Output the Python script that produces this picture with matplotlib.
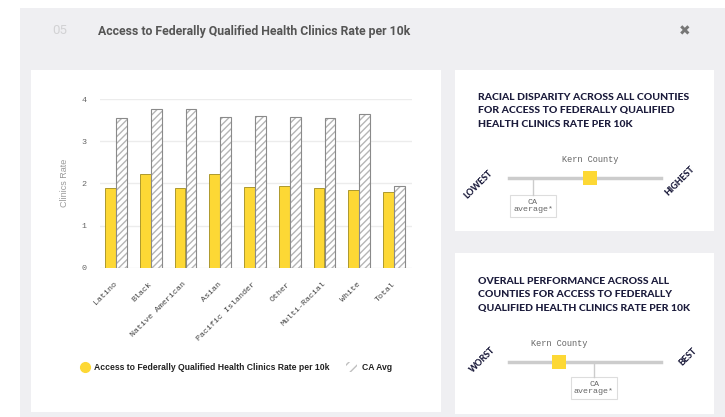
import numpy as np
import matplotlib
matplotlib.use("Agg")
import matplotlib.pyplot as plt
from matplotlib.patches import Rectangle
from matplotlib.transforms import ScaledTranslation

groups = ["Latino", "Black", "Native American", "Asian", "Pacific Islander",
          "Other", "Multi-Racial", "White", "Total"]
county_rate = [1.90, 2.23, 1.90, 2.23, 1.92, 1.94, 1.90, 1.84, 1.79]
ca_avg = [3.55, 3.76, 3.76, 3.57, 3.60, 3.57, 3.55, 3.64, 1.94]
y_ticks = [0, 1, 2, 3, 4]

W, H = 725, 417
fig = plt.figure(figsize=(W / 100, H / 100), dpi=100)
fig.patch.set_facecolor("white")

def fx(x):
    return x / W

def fy(y):
    return 1 - y / H

def box(x0, y0, x1, y1, color):
    fig.patches.append(Rectangle((fx(x0), fy(y1)), fx(x1 - x0), (y1 - y0) / H,
                                 transform=fig.transFigure, facecolor=color,
                                 edgecolor="none", zorder=-2))

bg = "#efeff2"
navy = "#1c1c3c"
yellow = "#fdd835"
mono = "Liberation Mono"
heavy = "Lato"

box(20, 8, 725, 417, bg)
box(31, 70, 441, 412, "white")
box(455, 70, 714, 231, "white")
box(455, 253, 714, 414, "white")

# header
fig.text(fx(52), fy(31), "05", fontsize=9.5, color="#d2d2d4", va="center", family="Roboto")
fig.text(fx(98), fy(31), "Access to Federally Qualified Health Clinics Rate per 10k",
         fontsize=8.8, color="#555555", va="center", family="Roboto", weight="bold")
fig.text(fx(685), fy(31), "\u2716", fontsize=10, color="#777777", va="center", ha="center",
         family="DejaVu Sans")

# bar chart
ax = fig.add_axes([fx(100), fy(267.7), fx(412 - 100), (267.7 - 99) / H])
ax.set_facecolor("none")
x = np.arange(len(groups))
w = 0.31
ax.bar(x - 0.16, county_rate, w, color=yellow, edgecolor="#a08c1c", linewidth=0.6, zorder=3)
ax.bar(x + 0.16, ca_avg, w, color="white", edgecolor="#b5b5b5", hatch="/////",
       linewidth=0, zorder=3)
ax.bar(x + 0.16, ca_avg, w, color="none", edgecolor="#8a8a8a", linewidth=0.8, zorder=4)
ax.set_xlim(-0.46, 8.52)
ax.set_ylim(0, 4)
ax.set_yticks(y_ticks)
ax.set_yticklabels([str(t) for t in y_ticks], family=mono, fontsize=6, color="#666666")
ax.set_xticks(x)
ax.set_xticklabels(groups, rotation=45, ha="right", va="center", rotation_mode="anchor",
                   family=mono, fontsize=6, color="#444444")
shift = ScaledTranslation(5 / 100, 0, fig.dpi_scale_trans)
for lbl in ax.get_xticklabels():
    lbl.set_transform(lbl.get_transform() + shift)
ax.tick_params(axis="both", length=0)
ax.tick_params(axis="y", pad=10)
ax.tick_params(axis="x", pad=11)
ax.grid(axis="y", color="#ececec", linewidth=1)
ax.set_axisbelow(True)
for s in ax.spines.values():
    s.set_visible(False)
ax.set_ylabel("Clinics Rate", family="Liberation Sans", fontsize=6.5, color="#9a9a9a",
              labelpad=9)

# legend
fig.add_artist(plt.Line2D([fx(85)], [fy(367)], marker="o", markersize=7, color=yellow,
                          linestyle="none", transform=fig.transFigure))
fig.text(fx(94), fy(367), "Access to Federally Qualified Health Clinics Rate per 10k",
         fontsize=6.2, color="#222222", va="center", family="Liberation Sans", weight="bold")
fig.patches.append(Rectangle((fx(346), fy(372)), fx(11), 10 / H, transform=fig.transFigure,
                             facecolor="white", edgecolor="#c0c0c0", hatch="///",
                             linewidth=0))
fig.text(fx(362), fy(367), "CA Avg", fontsize=6.2, color="#222222", va="center",
         family="Liberation Sans", weight="bold")

# right panels
def panel(title_lines, ty, line_y, county_x, ca_x, ca_below_y, left_lbl, right_lbl, lx, rx, ly):
    for i, t in enumerate(title_lines):
        fig.text(fx(478), fy(ty + i * 13.7), t, fontsize=7.5, color=navy, va="center",
                 family=heavy, weight="black")
    fig.add_artist(plt.Line2D([fx(509), fx(661)], [fy(line_y), fy(line_y)],
                              color="#cccccc", linewidth=2.5, transform=fig.transFigure))
    fig.patches.append(Rectangle((fx(county_x - 7), fy(line_y + 7)), fx(14), 14 / H,
                                 transform=fig.transFigure, facecolor=yellow,
                                 edgecolor="none", zorder=3))
    fig.text(fx(county_x), fy(line_y - 18), "Kern County", fontsize=6.2, color="#666666",
             ha="center", va="center", family=mono)
    fig.add_artist(plt.Line2D([fx(ca_x), fx(ca_x)], [fy(line_y), fy(ca_below_y)],
                              color="#cccccc", linewidth=1, transform=fig.transFigure))
    fig.patches.append(Rectangle((fx(ca_x - 23), fy(ca_below_y + 22)), fx(46), 22 / H,
                                 transform=fig.transFigure, facecolor="white",
                                 edgecolor="#dddddd", linewidth=0.8))
    fig.text(fx(ca_x), fy(ca_below_y + 11), "CA\naverage*", fontsize=6, color="#666666",
             ha="center", va="center", family=mono, linespacing=1.1)
    fig.text(fx(lx), fy(ly), left_lbl, fontsize=6.4, color=navy, ha="center", va="center",
             rotation=45, family=heavy, weight="black")
    fig.text(fx(rx), fy(ly - 3), right_lbl, fontsize=6.4, color=navy, ha="center", va="center",
             rotation=45, family=heavy, weight="black")

panel(["RACIAL DISPARITY ACROSS ALL COUNTIES",
       "FOR ACCESS TO FEDERALLY QUALIFIED",
       "HEALTH CLINICS RATE PER 10K"],
      97, 178, 590, 533, 195, "LOWEST", "HIGHEST", 478, 680, 184)
panel(["OVERALL PERFORMANCE ACROSS ALL",
       "COUNTIES FOR ACCESS TO FEDERALLY",
       "QUALIFIED HEALTH CLINICS RATE PER 10K"],
      281, 362, 559, 594, 377, "WORST", "BEST", 483, 688, 360)

fig.savefig("out.png", dpi=100)
